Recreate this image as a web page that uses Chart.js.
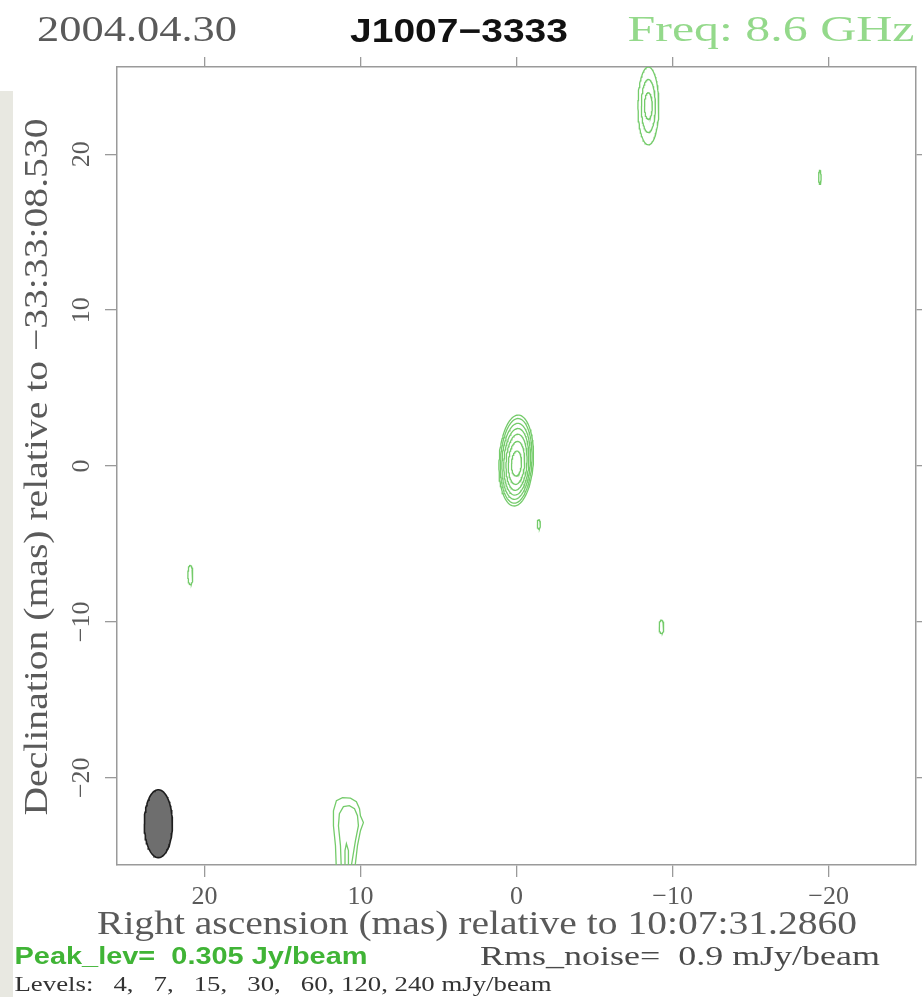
<!DOCTYPE html>
<html>
<head>
<meta charset="utf-8">
<script src="https://cdn.jsdelivr.net/npm/chart.js@4.4.0/dist/chart.umd.min.js"></script>
<style>
html,body{margin:0;padding:0;background:#ffffff;}
#wrap{position:relative;width:922px;height:997px;overflow:hidden;}
#strip{position:absolute;left:0;top:91px;width:13px;height:906px;background:#e8e8e1;}
#c{position:absolute;left:0;top:0;}
</style>
</head>
<body>
<div id="wrap"><div id="strip"></div><canvas id="c" width="922" height="997"></canvas></div>
<script>
// ---------------- data (mas, relative to phase centre) ----------------
const axisLimits = [-25.6, 25.6];
const tickValues = [-20, -10, 0, 10, 20];
const contourLevels = [4, 7, 15, 30, 60, 120, 240]; // mJy/beam
const peakLevel = 0.305;   // Jy/beam
const rmsNoise = 0.9;      // mJy/beam
const epoch = '2004.04.30';
const sourceName = 'J1007\u22123333';
const frequency = 'Freq: 8.6 GHz';
const raRef = '10:07:31.2860';
const decRef = '\u221233:33:08.530';

// core component: one ellipse per contour level
const coreRA      = [0.02, 0.02, 0.02, 0.01, 0.00, 0.00, 0.00];
const coreDec     = [0.35, 0.33, 0.30, 0.27, 0.24, 0.20, 0.16];
const coreSemiRA  = [1.10, 1.01, 0.91, 0.80, 0.67, 0.52, 0.32];
const coreSemiDec = [2.92, 2.72, 2.44, 2.14, 1.80, 1.38, 0.80];
const coreTilt = 3; // deg

// northern component
const northRA = -8.45, northDec = 23.1;
const northSemiRA  = [0.67, 0.45, 0.25];
const northSemiDec = [2.50, 1.70, 0.85];

// isolated weak spots
const spotRA      = [20.9, -1.43, -9.29, -19.44];
const spotDec     = [-6.99, -3.74, -10.32, 18.52];
const spotSemiRA  = [0.16, 0.10, 0.15, 0.08];
const spotSemiDec = [0.62, 0.30, 0.43, 0.45];

// southern component (traced contour lines, open at the map edge)
const southOuterRA  = [11.54, 11.60, 11.73, 11.73, 11.54, 11.15, 10.64, 10.26, 10.06, 10.00, 9.81, 10.00, 10.19, 10.38];
const southOuterDec = [-26.0, -24.36, -23.08, -22.12, -21.47, -21.28, -21.31, -21.54, -21.99, -22.44, -22.88, -23.40, -24.36, -26.0];
const southMidRA  = [11.22, 11.28, 11.41, 11.35, 11.09, 10.71, 10.38, 10.19, 10.13, 10.32, 10.64];
const southMidDec = [-26.0, -24.36, -23.08, -22.31, -21.86, -21.79, -21.99, -22.44, -23.08, -24.04, -26.0];
const southInnerRA  = [11.03, 10.99, 10.90, 10.77, 10.77];
const southInnerDec = [-26.0, -24.68, -24.23, -24.68, -26.0];

// restoring beam
const beamRA = 22.95, beamDec = -22.95, beamSemiRA = 0.9, beamSemiDec = 2.18;

// ---------------- helpers ----------------
function ellipse(cx, cy, a, b, tiltDeg) {
  const pts = [], phi = (tiltDeg || 0) * Math.PI / 180, n = 90;
  for (let i = 0; i <= n; i++) {
    const t = 2 * Math.PI * i / n;
    const ex = a * Math.cos(t), ey = b * Math.sin(t);
    pts.push({x: cx + ex * Math.cos(phi) - ey * Math.sin(phi),
              y: cy + ex * Math.sin(phi) + ey * Math.cos(phi)});
  }
  return pts;
}
function zipPts(xs, ys) { return xs.map((x, i) => ({x: x, y: ys[i]})); }
function fmtTick(v) { return v < 0 ? '\u2212' + Math.abs(v) : String(v); }

const GREEN = '#74cb6a';
const SERIF = '"Liberation Serif", "DejaVu Serif", serif';
const SANS = '"Liberation Sans", "DejaVu Sans", sans-serif';

const datasets = [];
function contour(pts) {
  datasets.push({data: pts, showLine: true, pointRadius: 0, borderColor: GREEN,
                 borderWidth: 1.3, fill: false, tension: 0});
}
coreSemiRA.forEach((a, i) => contour(ellipse(coreRA[i], coreDec[i], a, coreSemiDec[i], coreTilt)));
northSemiRA.forEach((a, i) => contour(ellipse(northRA, northDec, a, northSemiDec[i], 0)));
spotRA.forEach((r, i) => contour(ellipse(r, spotDec[i], spotSemiRA[i], spotSemiDec[i], 0)));
contour(zipPts(southOuterRA, southOuterDec));
contour(zipPts(southMidRA, southMidDec));
contour(zipPts(southInnerRA, southInnerDec));
datasets.push({data: ellipse(beamRA, beamDec, beamSemiRA, beamSemiDec, 0), showLine: true,
  pointRadius: 0, borderColor: '#1e1e1e', borderWidth: 1.6, backgroundColor: '#6e6e6e',
  fill: 'shape', tension: 0});

const xTitle = 'Right ascension (mas) relative to ' + raRef;
const yTitle = 'Declination (mas) relative to ' + decRef;
const levelsText = 'Levels:   ' + contourLevels.map(String).join(',   ').replace(/,   (120|240)/g, ', $1') + ' mJy/beam';

// text placements: centre x/y, target width, font size
const texts = [
  {t: epoch,      cx: 137, cy: 32, w: 200, s: 36, w8: 'normal', c: '#5a5a5a', f: SERIF},
  {t: sourceName, cx: 459, cy: 33, w: 218, s: 33, w8: 'bold',   c: '#111111', f: SANS},
  {t: frequency,  cx: 771, cy: 32, w: 287, s: 36, w8: 'normal', c: '#94d98b', f: SERIF},
  {t: xTitle,     cx: 477, cy: 925, w: 760, s: 33, w8: 'normal', c: '#5a5a5a', f: SERIF},
  {t: yTitle,     cx: 38, cy: 467, w: 697, s: 33, w8: 'normal', c: '#5a5a5a', f: SERIF, rot: true},
  {t: 'Peak_lev=  ' + peakLevel.toFixed(3) + ' Jy/beam', cx: 191, cy: 958, w: 353, s: 23, w8: 'bold', c: '#40b436', f: SANS},
  {t: 'Rms_noise=  ' + rmsNoise + ' mJy/beam', cx: 680, cy: 958, w: 400, s: 27, w8: 'normal', c: '#4a4a4a', f: SERIF},
  {t: levelsText, cx: 283, cy: 986, w: 537, s: 20, w8: 'normal', c: '#333333', f: SERIF}
];

const textPlugin = {
  id: 'texts',
  afterDraw(chart) {
    const ctx = chart.ctx;
    texts.forEach(h => {
      ctx.save();
      ctx.font = h.w8 + ' ' + h.s + 'px ' + h.f;
      const natural = ctx.measureText(h.t).width;
      ctx.translate(h.cx, h.cy);
      if (h.rot) ctx.rotate(-Math.PI / 2);
      ctx.scale(h.w / natural, 1);
      ctx.textBaseline = 'middle';
      ctx.textAlign = 'center';
      ctx.fillStyle = h.c;
      ctx.fillText(h.t, 0, 0);
      ctx.restore();
    });
  }
};

const frameGrid = {drawOnChartArea: false, drawTicks: true, tickLength: 12, color: '#9a9a9a', lineWidth: 1.3};
const frameBorder = {display: true, color: '#9a9a9a', width: 1.5};
function setTicks(scale) { scale.ticks = tickValues.map(v => ({value: v})); }

new Chart(document.getElementById('c'), {
  type: 'scatter',
  data: {datasets: datasets},
  options: {
    responsive: false,
    animation: false,
    devicePixelRatio: 1,
    layout: {padding: 0},
    plugins: {legend: {display: false}, tooltip: {enabled: false}},
    scales: {
      x: {
        type: 'linear', position: 'bottom', reverse: true,
        min: axisLimits[0], max: axisLimits[1],
        afterBuildTicks: setTicks,
        afterFit: s => { s.height = 132; },
        grid: frameGrid, border: frameBorder,
        ticks: {callback: fmtTick, color: '#5a5a5a', padding: 5,
                font: {family: SERIF, size: 26}, maxRotation: 0, minRotation: 0}
      },
      x2: {
        type: 'linear', position: 'top', reverse: true,
        min: axisLimits[0], max: axisLimits[1],
        afterBuildTicks: setTicks,
        afterFit: s => { s.height = 67; },
        grid: Object.assign({}, frameGrid, {tickLength: 10}), border: frameBorder,
        ticks: {display: false}
      },
      y: {
        type: 'linear', position: 'left',
        min: axisLimits[0], max: axisLimits[1],
        afterBuildTicks: setTicks,
        afterFit: s => { s.width = 117; },
        grid: frameGrid, border: frameBorder,
        ticks: {callback: fmtTick, color: '#5a5a5a', padding: 2, crossAlign: 'center',
                minRotation: 90, maxRotation: 90,
                font: {family: SERIF, size: 26}}
      },
      y2: {
        type: 'linear', position: 'right',
        min: axisLimits[0], max: axisLimits[1],
        afterBuildTicks: setTicks,
        afterFit: s => { s.width = 6; },
        grid: Object.assign({}, frameGrid, {tickLength: 8}), border: frameBorder,
        ticks: {display: false}
      }
    }
  },
  plugins: [textPlugin]
});
</script>
</body>
</html>
